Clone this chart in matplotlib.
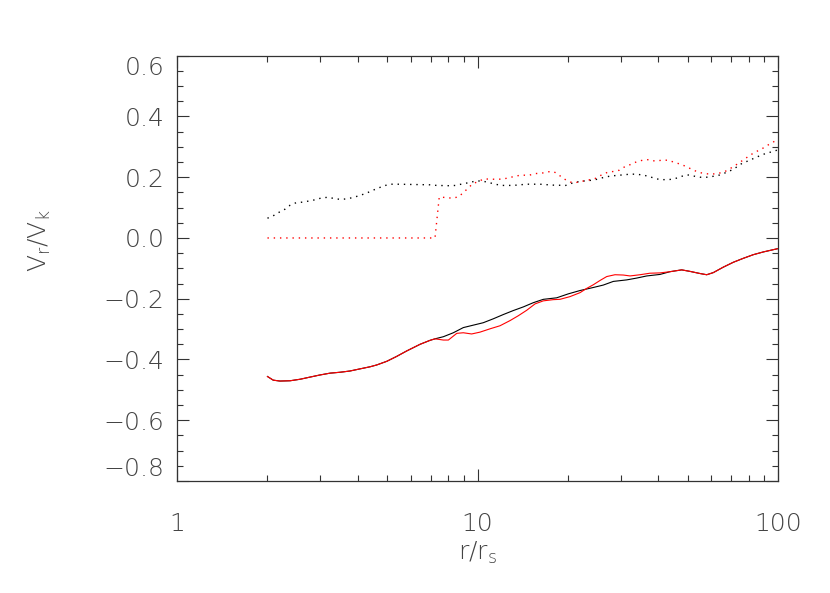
import matplotlib
matplotlib.use("Agg")
import matplotlib.pyplot as plt
from matplotlib.ticker import FixedLocator, FixedFormatter, NullFormatter

# ---------------- data ----------------
r_black_dot = [2.0, 2.09, 2.19, 2.29, 2.38, 2.49, 2.62, 2.76, 2.89, 3.03,
               3.19, 3.36, 3.51, 3.69, 3.88, 4.06, 4.26, 4.46, 4.67, 4.89,
               5.14, 5.41, 6.95, 7.31, 8.06, 8.48, 8.90, 9.35, 9.83, 10.33,
               10.84, 11.37, 11.95, 13.15, 14.58, 16.14, 17.8, 19.66, 20.58, 21.65,
               22.79, 23.99, 25.23, 26.42, 27.81, 29.19, 30.73, 32.18, 33.87, 35.46,
               37.22, 39.06, 41.11, 43.28, 45.33, 47.46, 49.81, 52.26, 55.0, 57.9,
               60.9, 63.8, 67.0, 70.3, 73.0, 76.0, 79.7, 83.5, 87.6, 91.5,
               95.7, 100.0]
v_black_dot = [0.065, 0.073, 0.085, 0.095, 0.108, 0.116, 0.118, 0.122, 0.126, 0.132,
               0.134, 0.129, 0.127, 0.129, 0.134, 0.140, 0.147, 0.156, 0.164, 0.172,
               0.177, 0.177, 0.175, 0.173, 0.172, 0.173, 0.178, 0.182, 0.187, 0.188,
               0.183, 0.178, 0.173, 0.173, 0.177, 0.177, 0.174, 0.173, 0.180, 0.185,
               0.188, 0.190, 0.194, 0.200, 0.204, 0.206, 0.208, 0.210, 0.210, 0.207,
               0.203, 0.195, 0.192, 0.192, 0.195, 0.202, 0.208, 0.204, 0.200, 0.200,
               0.203, 0.207, 0.215, 0.224, 0.234, 0.246, 0.254, 0.263, 0.272, 0.279,
               0.284, 0.290]

r_red_dot = [2.0, 7.22, 7.46, 7.84, 8.23, 8.63, 8.97, 9.32, 9.68, 10.06,
             10.45, 10.95, 11.53, 12.13, 12.73, 13.40, 14.07, 14.80, 15.54, 16.33,
             17.13, 17.97, 18.67, 19.45, 20.36, 21.38, 22.39, 23.50, 24.66, 25.70,
             26.92, 28.31, 29.65, 30.96, 32.35, 33.87, 35.46, 37.22, 38.96, 41.11,
             43.14, 45.19, 47.31, 49.55, 51.87, 54.48, 57.04, 59.84, 62.81, 66.11,
             69.22, 72.11, 75.16, 78.24, 81.49, 84.94, 88.9, 93.0, 96.9, 100.0]
v_red_dot = [0.0, 0.0, 0.135, 0.133, 0.131, 0.135, 0.149, 0.165, 0.180, 0.185,
             0.194, 0.194, 0.193, 0.194, 0.198, 0.204, 0.207, 0.206, 0.212, 0.213,
             0.218, 0.218, 0.207, 0.194, 0.184, 0.183, 0.187, 0.191, 0.196, 0.206,
             0.215, 0.219, 0.223, 0.235, 0.242, 0.251, 0.256, 0.258, 0.253, 0.256,
             0.256, 0.249, 0.243, 0.235, 0.225, 0.216, 0.212, 0.210, 0.212, 0.217,
             0.228, 0.239, 0.251, 0.263, 0.275, 0.285, 0.295, 0.307, 0.317, 0.325]

r_black_sol = [2.0, 2.09, 2.20, 2.38, 2.57, 2.77, 2.99, 3.23, 3.49, 3.76,
               4.06, 4.39, 4.62, 4.99, 5.38, 5.81, 6.44, 6.95, 7.22, 7.70,
               8.31, 8.97, 9.68, 10.45, 11.29, 12.19, 13.15, 14.20, 15.34, 16.56,
               18.34, 20.05, 21.94, 24.29, 26.22, 28.31, 31.37, 33.87, 36.58, 40.49,
               43.71, 47.82, 50.95, 55.01, 57.91, 60.92, 65.77, 71.0, 76.65, 82.76,
               89.35, 100.0]
v_black_sol = [-0.456, -0.468, -0.471, -0.470, -0.465, -0.458, -0.451, -0.445, -0.442, -0.438,
               -0.431, -0.424, -0.418, -0.406, -0.390, -0.372, -0.350, -0.337, -0.332, -0.325,
               -0.312, -0.295, -0.287, -0.279, -0.266, -0.252, -0.239, -0.227, -0.213, -0.202,
               -0.197, -0.184, -0.173, -0.163, -0.155, -0.143, -0.138, -0.132, -0.125, -0.120,
               -0.111, -0.105, -0.110, -0.117, -0.121, -0.114, -0.096, -0.080, -0.067, -0.055,
               -0.046, -0.035]

r_red_sol = [2.0, 2.09, 2.20, 2.38, 2.57, 2.77, 2.99, 3.23, 3.49, 3.76,
             4.06, 4.39, 4.62, 4.99, 5.38, 5.81, 6.44, 6.95, 7.22, 7.70,
             8.00, 8.53, 8.97, 9.56, 10.19, 11.01, 11.88, 12.83, 13.67, 14.58,
             15.54, 16.56, 17.87, 18.81, 20.32, 21.94, 23.09, 24.29, 25.56, 26.92,
             28.68, 30.56, 32.18, 34.74, 37.50, 40.49, 43.71, 47.82, 50.95, 55.01,
             57.91, 60.92, 65.77, 71.0, 76.65, 82.76, 89.35, 100.0]
v_red_sol = [-0.456, -0.468, -0.471, -0.470, -0.465, -0.458, -0.451, -0.445, -0.442, -0.438,
             -0.431, -0.424, -0.418, -0.406, -0.390, -0.372, -0.350, -0.337, -0.332, -0.336,
             -0.336, -0.314, -0.312, -0.316, -0.310, -0.299, -0.289, -0.272, -0.256, -0.238,
             -0.217, -0.207, -0.203, -0.202, -0.193, -0.180, -0.166, -0.154, -0.140, -0.127,
             -0.121, -0.122, -0.125, -0.121, -0.116, -0.115, -0.111, -0.105, -0.110, -0.117,
             -0.121, -0.114, -0.096, -0.080, -0.067, -0.055, -0.046, -0.035]

x_ticks = [1, 10, 100]
x_tick_labels = ['1', '10', '100']
x_minor = [2, 3, 4, 5, 6, 7, 8, 9, 20, 30, 40, 50, 60, 70, 80, 90]
y_ticks = [-0.8, -0.6, -0.4, -0.2, 0.0, 0.2, 0.4, 0.6]
y_tick_labels = ['\u22120.8', '\u22120.6', '\u22120.4', '\u22120.2', '0.0', '0.2', '0.4', '0.6']
y_minor = [-0.75, -0.7, -0.65, -0.55, -0.5, -0.45, -0.35, -0.3, -0.25, -0.15, -0.1, -0.05,
           0.05, 0.1, 0.15, 0.25, 0.3, 0.35, 0.45, 0.5, 0.55]

# ---------------- figure ----------------
plt.rcParams['font.family'] = ['DejaVu Sans']
plt.rcParams['mathtext.default'] = 'regular'
TXT = '#444444'
AX = '#333333'
FS = 18

fig = plt.figure(figsize=(8.30, 5.93), dpi=100)
ax = fig.add_axes([177/830, 1 - 481/593, (778 - 177)/830, (481 - 55.7)/593])

ax.plot(r_black_dot, v_black_dot, color='#000000', lw=1.0, linestyle=(0, (1, 3.5)))
ax.plot(r_red_dot, v_red_dot, color='#ff0000', lw=1.0, linestyle=(0, (1, 3.5)))
ax.plot(r_black_sol, v_black_sol, color='#000000', lw=0.8)
ax.plot(r_red_sol, v_red_sol, color='#ff0000', lw=0.8)

ax.set_xscale('log')
ax.set_xlim(1, 100)
ax.set_ylim(-0.8, 0.6)

ax.xaxis.set_major_locator(FixedLocator(x_ticks))
ax.xaxis.set_major_formatter(FixedFormatter(x_tick_labels))
ax.xaxis.set_minor_locator(FixedLocator(x_minor))
ax.xaxis.set_minor_formatter(NullFormatter())
ax.yaxis.set_major_locator(FixedLocator(y_ticks))
ax.yaxis.set_major_formatter(FixedFormatter(y_tick_labels))
ax.yaxis.set_minor_locator(FixedLocator(y_minor))

for sp in ax.spines.values():
    sp.set_color(AX)
    sp.set_linewidth(0.9)

ax.tick_params(which='both', direction='in', top=True, right=True, color=AX, width=0.8)
ax.tick_params(which='major', length=8.6)
ax.tick_params(which='minor', length=4.3)
ax.tick_params(axis='y', which='major', pad=9, labelsize=FS, labelcolor=TXT)
ax.tick_params(axis='x', which='major', pad=22, labelsize=FS, labelcolor=TXT)

for lab in ax.get_xticklabels() + ax.get_yticklabels():
    lab.set_fontweight(200)

yt = ax.yaxis.get_major_ticks()
yt[0].label1.set_verticalalignment('bottom')
yt[-1].label1.set_verticalalignment('top')

fig.text(40/830, 1 - 241/593, r'V$_r$/V$_k$', rotation=90, ha='center', va='center',
         fontsize=FS, color=TXT, fontweight=200)
fig.text(478/830, 1 - 553/593, r'r/r$_s$', ha='center', va='center',
         fontsize=FS, color=TXT, fontweight=200)

fig.savefig('out.png', dpi=100)
